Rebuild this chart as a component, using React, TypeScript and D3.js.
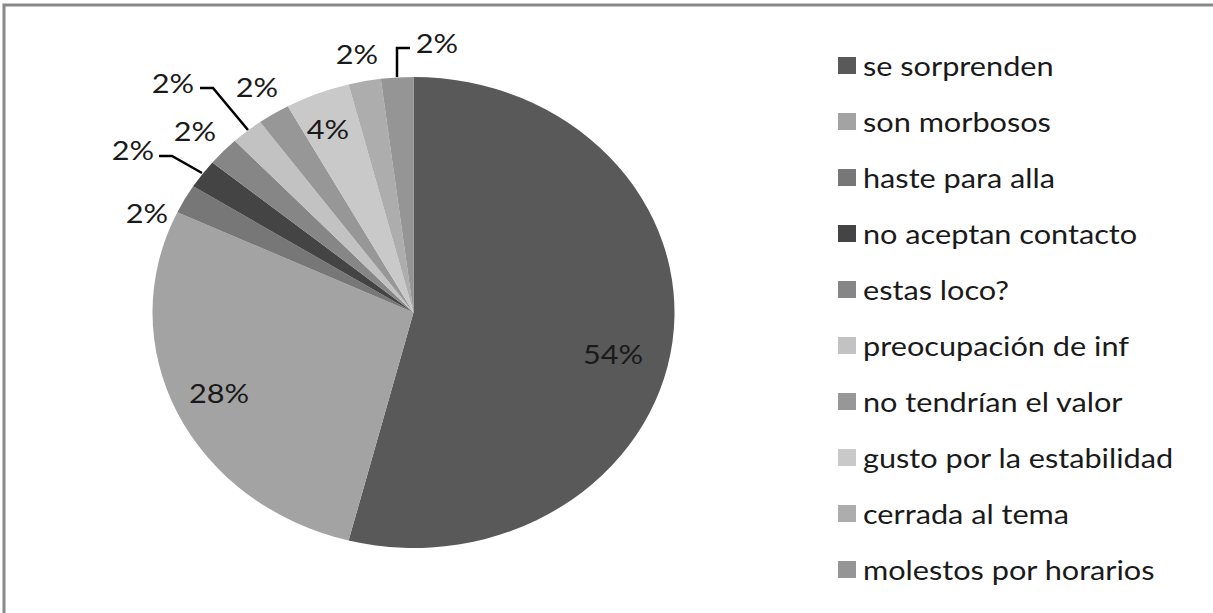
import React from "react";
import * as d3 from "d3";

const categories = [
  "se sorprenden",
  "son morbosos",
  "haste para alla",
  "no aceptan contacto",
  "estas loco?",
  "preocupación de inf",
  "no tendrían el valor",
  "gusto por la estabilidad",
  "cerrada al tema",
  "molestos por horarios",
];
const values = [54, 28, 2, 2, 2, 2, 2, 4, 2, 2];
const labels = ["54%", "28%", "2%", "2%", "2%", "2%", "2%", "4%", "2%", "2%"];
const colors = [
  "#595959",
  "#a3a3a3",
  "#777777",
  "#444444",
  "#868686",
  "#c2c2c2",
  "#979797",
  "#c9c9c9",
  "#adadad",
  "#959595",
];

// label placement: [x, y] in chart px, optional leader polyline
const labelPos: [number, number][] = [
  [613, 354],
  [219, 393],
  [147, 213],
  [133, 150],
  [195, 131],
  [173, 83],
  [257, 87],
  [328, 129],
  [357, 54],
  [437, 43],
];
const leaders: ([number, number][] | null)[] = [
  null,
  null,
  null,
  [[159, 156], [172, 156], [202, 173]],
  null,
  [[200, 88], [213, 88], [248, 130]],
  null,
  null,
  null,
  [[410, 48], [397, 48], [397, 77]],
];

const W = 1213;
const H = 613;
const cx = 413.5;
const cy = 312.5;
const rx = 261;
const ry = 235.5;
const SX = 1.18;

export default function App() {
  const pie = d3.pie<number>().sort(null).value((d) => d)(values);
  const R = 100;
  const arc = d3.arc<d3.PieArcDatum<number>>().innerRadius(0).outerRadius(R);
  const font = "Lato, 'Open Sans', sans-serif";
  const legendY = d3.scaleLinear().domain([0, categories.length - 1]).range([66, 570]);
  const line = d3.line();
  return (
    <svg width={W} height={H} style={{ position: "absolute", left: 0, top: 0, background: "#fff" }}>
      <rect x={4} y={5} width={W + 10} height={H + 10} fill="none" stroke="#898989" strokeWidth={3} />
      <g transform={`translate(${cx},${cy}) scale(${rx / R},${ry / R})`}>
        {pie.map((p, i) => (
          <path key={i} d={arc(p) || ""} fill={colors[i]} />
        ))}
      </g>
      {leaders.map((l, i) =>
        l ? <path key={i} d={line(l) || ""} fill="none" stroke="#000" strokeWidth={2.5} /> : null
      )}
      {labels.map((t, i) => (
        <text
          key={i}
          transform={`translate(${labelPos[i][0]},${labelPos[i][1]}) scale(${SX},1)`}
          textAnchor="middle"
          dominantBaseline="central"
          fontFamily={font}
          fontSize={26}
          fill="#1a1a1a"
        >
          {t}
        </text>
      ))}
      {categories.map((c, i) => (
        <g key={i} transform={`translate(838,${legendY(i)})`}>
          <rect x={0} y={-9} width={18} height={17} fill={colors[i]} />
          <text
            transform={`translate(25,0) scale(${SX},1)`}
            dominantBaseline="central"
            fontFamily={font}
            fontSize={26}
            fill="#1a1a1a"
          >
            {c}
          </text>
        </g>
      ))}
    </svg>
  );
}
